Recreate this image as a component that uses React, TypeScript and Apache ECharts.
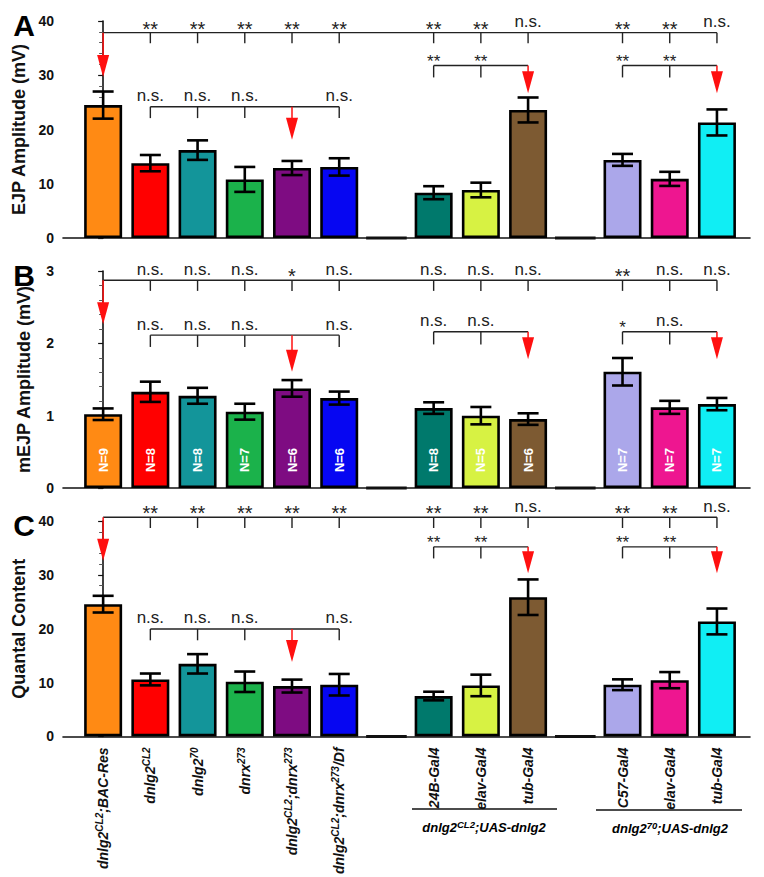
import React, { useEffect, useRef } from 'react';
import * as echarts from 'echarts';

const FONT = '"Liberation Sans", Arial, Helvetica, sans-serif';

// ---- data ----
const barPositions = [0, 1, 2, 3, 4, 5, 7, 8, 9, 11, 12, 13];
const gapPositions = [6, 10];
const genotypeLabels = [
  'dnlg2^{CL2};BAC-Res',
  'dnlg2^{CL2}',
  'dnlg2^{70}',
  'dnrx^{273}',
  'dnlg2^{CL2};dnrx^{273}',
  'dnlg2^{CL2};dnrx^{273}/Df',
  '24B-Gal4',
  'elav-Gal4',
  'tub-Gal4',
  'C57-Gal4',
  'elav-Gal4',
  'tub-Gal4',
];
const groupLabels = ['dnlg2^{CL2};UAS-dnlg2', 'dnlg2^{70};UAS-dnlg2'];
const barColors = [
  '#FF8A14', '#FF0000', '#13959A', '#1BB24B', '#7E0C82', '#0606F2',
  '#00796C', '#D7F243', '#7D5A32', '#ABA7EA', '#EE1690', '#10EEF4',
];

const ejpMean = [24.5, 13.8, 16.2, 10.8, 12.9, 13.1, 8.35, 8.85, 23.6, 14.4, 10.9, 21.3];
const ejpSem = [2.5, 1.5, 1.8, 2.3, 1.3, 1.6, 1.2, 1.35, 2.3, 1.1, 1.3, 2.4];
const mejpMean = [1.02, 1.33, 1.275, 1.055, 1.377, 1.243, 1.105, 1.0, 0.953, 1.607, 1.115, 1.16];
const mejpSem = [0.08, 0.14, 0.11, 0.11, 0.115, 0.09, 0.08, 0.12, 0.08, 0.19, 0.09, 0.085];
const nCounts = [9, 8, 8, 7, 6, 6, 8, 5, 6, 7, 7, 7];
const qcMean = [24.56, 10.58, 13.48, 10.15, 9.35, 9.6, 7.5, 9.47, 25.85, 9.6, 10.45, 21.35];
const qcSem = [1.55, 1.1, 1.8, 1.9, 1.2, 2.0, 0.8, 2.0, 3.3, 1.0, 1.5, 2.4];

// significance marks: top row compares every bar with the rescue (position 0)
const ejpTopMarks = ['**', '**', '**', '**', '**', '**', '**', 'n.s.', '**', '**', 'n.s.'];
const mejpTopMarks = ['n.s.', 'n.s.', 'n.s.', '*', 'n.s.', 'n.s.', 'n.s.', 'n.s.', '**', 'n.s.', 'n.s.'];
const qcTopMarks = ['**', '**', '**', '**', '**', '**', '**', 'n.s.', '**', '**', 'n.s.'];

const innerGroups = [
  { from: 1, to: 5, ticks: [1, 2, 3, 5], arrow: 4 },
  { from: 7, to: 9, ticks: [7, 8], arrow: 9 },
  { from: 11, to: 13, ticks: [11, 12], arrow: 13 },
];
const ejpInnerMarks = [['n.s.', 'n.s.', 'n.s.', 'n.s.'], ['**', '**'], ['**', '**']];
const mejpInnerMarks = [['n.s.', 'n.s.', 'n.s.', 'n.s.'], ['n.s.', 'n.s.'], ['*', 'n.s.']];
const qcInnerMarks = [['n.s.', 'n.s.', 'n.s.', 'n.s.'], ['**', '**'], ['**', '**']];

// bracket levels in data units: [line, tick end, arrow tip]
const ejpLevels = [[37.85, 35.9, 29.7], [24.2, 22.1, 18.1], [31.8, 29.6, 26.7], [31.8, 29.6, 26.7]];
const mejpLevels = [[2.873, 2.725, 2.265], [2.113, 1.95, 1.606], [2.16, 1.985, 1.78], [2.16, 1.985, 1.78]];
const qcLevels = [[40.7, 38.7, 32.6], [19.95, 17.85, 13.8], [35.2, 33.05, 30.3], [35.2, 33.05, 30.3]];

// ---- helpers ----
function toRich(s: string) {
  const parts = s.split(/\^\{([^}]*)\}/);
  return parts
    .map((p, i) => (p === '' ? '' : i % 2 === 1 ? `{s|${p}}` : `{i|${p}}`))
    .join('');
}

function richStyles(size: number, supSize: number, lh: number) {
  return {
    i: { fontFamily: FONT, fontStyle: 'italic', fontWeight: 'bold', fontSize: size, lineHeight: lh, color: '#111', verticalAlign: 'middle' },
    s: { fontFamily: FONT, fontStyle: 'italic', fontWeight: 'bold', fontSize: supSize, lineHeight: supSize, color: '#111', verticalAlign: 'top' },
  };
}

const XMIN = -0.85;
const XMAX = 13.7;
const BAR_HALF = 0.43;

function buildPanel(
  g: number,
  means: number[],
  sems: number[],
  levels: number[][],
  topMarks: string[],
  innerMarks: string[][],
  withN: boolean,
) {
  const series: any[] = [];
  series.push({
    type: 'bar',
    xAxisIndex: g,
    yAxisIndex: g,
    barWidth: 38,
    silent: true,
    itemStyle: { borderColor: '#000', borderWidth: 2.6 },
    data: barPositions.map((p, i) => ({ value: [p, means[i]], itemStyle: { color: barColors[i] } })),
    z: 2,
  });
  series.push({
    type: 'custom',
    xAxisIndex: g,
    yAxisIndex: g,
    silent: true,
    data: gapPositions.map((p) => [p, 0]),
    renderItem: (params: any, api: any) => {
      const p = api.value(0);
      const a = api.coord([p - BAR_HALF, 0]);
      const b = api.coord([p + BAR_HALF, 0]);
      return { type: 'line', shape: { x1: a[0], y1: a[1], x2: b[0], y2: b[1] }, style: { stroke: '#111', lineWidth: 3 } };
    },
    z: 3,
  });
  series.push({
    type: 'custom',
    xAxisIndex: g,
    yAxisIndex: g,
    silent: true,
    data: barPositions.map((p, i) => [p, means[i], sems[i]]),
    renderItem: (params: any, api: any) => {
      const x = api.value(0);
      const m = api.value(1);
      const s = api.value(2);
      const t = api.coord([x, m + s]);
      const b = api.coord([x, m - s]);
      const hw = 10.5;
      const st = { stroke: '#000', lineWidth: 2.6 };
      return {
        type: 'group',
        children: [
          { type: 'line', shape: { x1: t[0], y1: t[1], x2: b[0], y2: b[1] }, style: st },
          { type: 'line', shape: { x1: t[0] - hw, y1: t[1], x2: t[0] + hw, y2: t[1] }, style: st },
          { type: 'line', shape: { x1: b[0] - hw, y1: b[1], x2: b[0] + hw, y2: b[1] }, style: st },
        ],
      };
    },
    z: 4,
  });
  if (withN) {
    series.push({
      type: 'custom',
      xAxisIndex: g,
      yAxisIndex: g,
      silent: true,
      data: barPositions.map((p, i) => [p, 0, nCounts[i]]),
      renderItem: (params: any, api: any) => {
        const c = api.coord([api.value(0), 0]);
        return {
          type: 'text',
          x: c[0],
          y: c[1] - 28,
          rotation: Math.PI / 2,
          style: {
            text: 'N=' + api.value(2),
            fill: '#fff',
            font: `bold 13px ${FONT}`,
            align: 'center',
            verticalAlign: 'middle',
          },
        };
      },
      z: 5,
    });
  }
  const brackets = [
    { from: 0, to: 13, ticks: barPositions.slice(1), arrow: 0, marks: topMarks, lv: levels[0], inner: false },
    ...innerGroups.map((ig, k) => ({ ...ig, marks: innerMarks[k], lv: levels[k + 1], inner: k > 0 })),
  ];
  series.push({
    type: 'custom',
    xAxisIndex: g,
    yAxisIndex: g,
    silent: true,
    clip: false,
    data: brackets.map((b, k) => [b.from, b.lv[0], k]),
    renderItem: (params: any, api: any) => {
      const b = brackets[params.dataIndex];
      const [lvl, tickEnd, tip] = b.lv;
      const L = api.coord([b.from, lvl]);
      const R = api.coord([b.to, lvl]);
      const lineSt = { stroke: '#222', lineWidth: 1.4 };
      const children: any[] = [{ type: 'line', shape: { x1: L[0], y1: L[1], x2: R[0], y2: R[1] }, style: lineSt }];
      b.ticks.forEach((p: number, j: number) => {
        const a = api.coord([p, lvl]);
        const e = api.coord([p, tickEnd]);
        children.push({ type: 'line', shape: { x1: a[0], y1: a[1], x2: e[0], y2: e[1] }, style: lineSt });
        const mk = b.marks[j];
        const isNs = mk === 'n.s.';
        const fs = isNs ? 17 : b.inner ? 17 : 20;
        children.push({
          type: 'text',
          x: a[0],
          y: a[1] + (isNs ? -11 : -4),
          style: { text: mk, fill: '#222', font: `${fs}px ${FONT}`, align: 'center', verticalAlign: 'middle' },
        });
      });
      const s0 = api.coord([b.arrow, lvl]);
      const tp = api.coord([b.arrow, tip]);
      const headLen = 22;
      const headHalf = 6;
      children.push({
        type: 'line',
        shape: { x1: s0[0], y1: s0[1], x2: tp[0], y2: tp[1] - headLen + 1 },
        style: { stroke: '#FF1010', lineWidth: 1.5 },
      });
      children.push({
        type: 'polygon',
        shape: { points: [[tp[0] - headHalf, tp[1] - headLen], [tp[0] + headHalf, tp[1] - headLen], [tp[0], tp[1]]] },
        style: { fill: '#FF1010' },
      });
      return { type: 'group', children };
    },
    z: 6,
  });
  return series;
}

const grids = [
  { left: 63, right: 14, top: 21, height: 217 },
  { left: 63, right: 14, top: 271, height: 217 },
  { left: 63, right: 14, top: 521, height: 216 },
];
const yNames = ['EJP Amplitude (mV)', 'mEJP Amplitude (mV)', 'Quantal Content'];
const yMax = [40, 3, 40];
const yInterval = [10, 1, 10];
const panelLetters = ['A', 'B', 'C'];

export default function App() {
  const ref = useRef<HTMLDivElement>(null);
  useEffect(() => {
    if (!ref.current) return;
    const chart = echarts.init(ref.current, undefined, { renderer: 'svg' });
    const xAxis = grids.map((_, g) => ({
      type: 'value',
      gridIndex: g,
      min: XMIN,
      max: XMAX,
      splitLine: { show: false },
      axisTick: { show: false },
      axisLine: { show: true, onZero: false, lineStyle: { color: '#111', width: 1.6 } },
      axisLabel:
        g === 2
          ? {
              show: true,
              customValues: barPositions,
              rotate: 90,
              margin: 11,
              formatter: (v: number) => {
                const i = barPositions.indexOf(Math.round(v));
                return i >= 0 ? toRich(genotypeLabels[i]) : '';
              },
              rich: richStyles(14, 10, 17),
            }
          : { show: false },
    }));
    const yAxis = grids.map((_, g) => ({
      type: 'value',
      gridIndex: g,
      min: 0,
      max: yMax[g],
      interval: yInterval[g],
      name: yNames[g],
      nameLocation: 'middle',
      nameGap: 30,
      nameTextStyle: { fontFamily: FONT, fontWeight: 'bold', fontSize: 18, color: '#111' },
      splitLine: { show: false },
      axisLine: { show: true, lineStyle: { color: '#111', width: 1.6 } },
      axisTick: { show: true, length: 5, lineStyle: { color: '#111', width: 1.2 } },
      minorTick: { show: true, splitNumber: 5, length: 4, lineStyle: { color: '#555', width: 1 } },
      axisLabel: { fontFamily: FONT, fontWeight: 'bold', fontSize: 14, color: '#111', margin: 9 },
    }));
    const series = [
      ...buildPanel(0, ejpMean, ejpSem, ejpLevels, ejpTopMarks, ejpInnerMarks, false),
      ...buildPanel(1, mejpMean, mejpSem, mejpLevels, mejpTopMarks, mejpInnerMarks, true),
      ...buildPanel(2, qcMean, qcSem, qcLevels, qcTopMarks, qcInnerMarks, false),
    ];
    const graphic: any[] = [
      ...panelLetters.map((l, g) => ({
        type: 'text',
        x: 24,
        y: grids[g].top + 4,
        style: { text: l, font: `bold 30px ${FONT}`, fill: '#000', align: 'center', verticalAlign: 'middle' },
      })),
      { type: 'line', shape: { x1: 412, y1: 809, x2: 557, y2: 809 }, style: { stroke: '#111', lineWidth: 1.4 } },
      { type: 'line', shape: { x1: 596, y1: 810, x2: 742, y2: 810 }, style: { stroke: '#111', lineWidth: 1.4 } },
      {
        type: 'text',
        x: 484,
        y: 827,
        style: { text: toRich(groupLabels[0]), rich: richStyles(13, 9.5, 16), align: 'center', verticalAlign: 'middle' },
      },
      {
        type: 'text',
        x: 670,
        y: 828,
        style: { text: toRich(groupLabels[1]), rich: richStyles(13, 9.5, 16), align: 'center', verticalAlign: 'middle' },
      },
    ];
    chart.setOption({
      animation: false,
      backgroundColor: '#fff',
      textStyle: { fontFamily: FONT },
      grid: grids,
      xAxis,
      yAxis,
      series,
      graphic,
    });
    return () => chart.dispose();
  }, []);
  return <div ref={ref} style={{ position: 'absolute', left: 0, top: 0, width: 764, height: 877 }} />;
}
